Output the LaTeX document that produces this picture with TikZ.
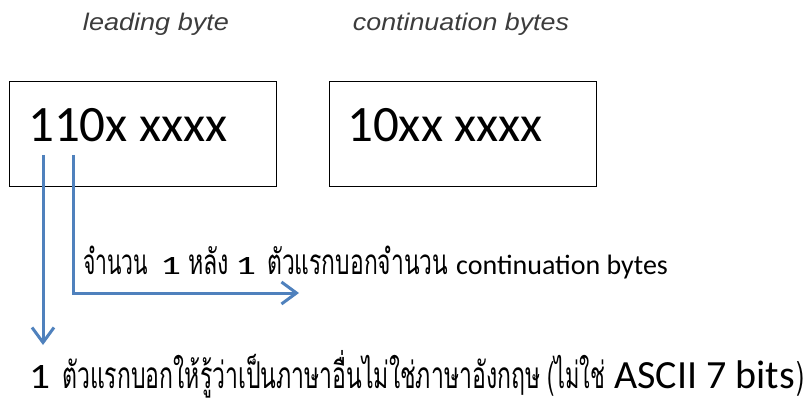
\documentclass[tikz,border=0pt]{standalone}
\usepackage{fontspec}
\usepackage{graphicx}
\setmainfont{Carlito}
\newfontfamily\thaifont[Script=Thai]{Loma}
\newfontfamily\titlefont{Liberation Sans}
\usetikzlibrary{arrows.meta}
\definecolor{arrowblue}{RGB}{79,129,189}
\definecolor{titlegray}{RGB}{60,60,60}
\newcommand\fitw[2]{\resizebox{#1}{\height}{#2}}
\begin{document}
\begin{tikzpicture}[x=1pt,y=-1pt,
  bytebox/.style={draw=black,line width=1pt,minimum width=267pt,minimum height=105pt,inner sep=0pt},
  bits/.style={font=\fontsize{51}{51}\selectfont,anchor=base west,inner sep=0pt},
  title/.style={font=\titlefont\itshape\fontsize{24}{24}\selectfont,text=titlegray,anchor=base,inner sep=0pt},
  txt/.style={anchor=base west,inner sep=0pt},
  thaiA/.style={txt,font=\thaifont\fontsize{35}{35}\selectfont},
  thaiB/.style={txt,font=\thaifont\fontsize{37}{37}\selectfont},
  arr/.style={draw=arrowblue,line width=3pt,-{Straight Barb[length=15pt,width=22pt]}}
]
\useasboundingbox (0,0) rectangle (808,403);
% titles
\node[title] (t1) at (156,31) {\fitw{146pt}{leading byte}};
\node[title] (t2) at (461,31) {\fitw{216pt}{continuation bytes}};
% boxes
\node[bytebox] (b1) at (142.5,134.5) {};
\node[bytebox] (b2) at (462.5,134.5) {};
\node[bits] (v1) at (28,142) {110x xxxx};
\node[bits] (v2) at (347,142) {10xx xxxx};
% arrows
\coordinate (s1) at (43,155);
\coordinate (e1) at (43,345);
\coordinate (s2) at (73,155);
\coordinate (e2) at (299,293);
\draw[arr] (s1) -- (e1);
\draw[arr] (s2) |- (e2);
% line 1
\node[thaiA] (l1a) at (83,274) {\fitw{65pt}{จำนวน}};
\node[txt] (l1b) at (160,274) {\resizebox{21pt}{17pt}{1}};
\node[thaiA] (l1c) at (188,274) {\fitw{41pt}{หลัง}};
\node[txt] (l1d) at (235,274) {\resizebox{21pt}{17pt}{1}};
\node[thaiA] (l1e) at (267,274) {\fitw{181pt}{ตัวแรกบอกจำนวน}};
\node[txt,font=\fontsize{28}{28}\selectfont] (l1f) at (456,274) {continuation bytes};
% line 2
\node[txt] (l2a) at (29,388) {\resizebox{21pt}{23pt}{1}};
\node[thaiB] (l2b) at (62,388) {\fitw{478pt}{ตัวแรกบอกให้รู้ว่าเป็นภาษาอื่นไม่ใช่ภาษาอังกฤษ}};
\node[thaiB] (l2c) at (547,388) {\fitw{58pt}{(ไม่ใช่}};
\node[txt,font=\fontsize{40}{40}\selectfont] (l2d) at (614,388) {ASCII 7 bits};
\node[thaiB] (l2e) at (796,388) {\fitw{8pt}{)}};
\end{tikzpicture}
\end{document}
